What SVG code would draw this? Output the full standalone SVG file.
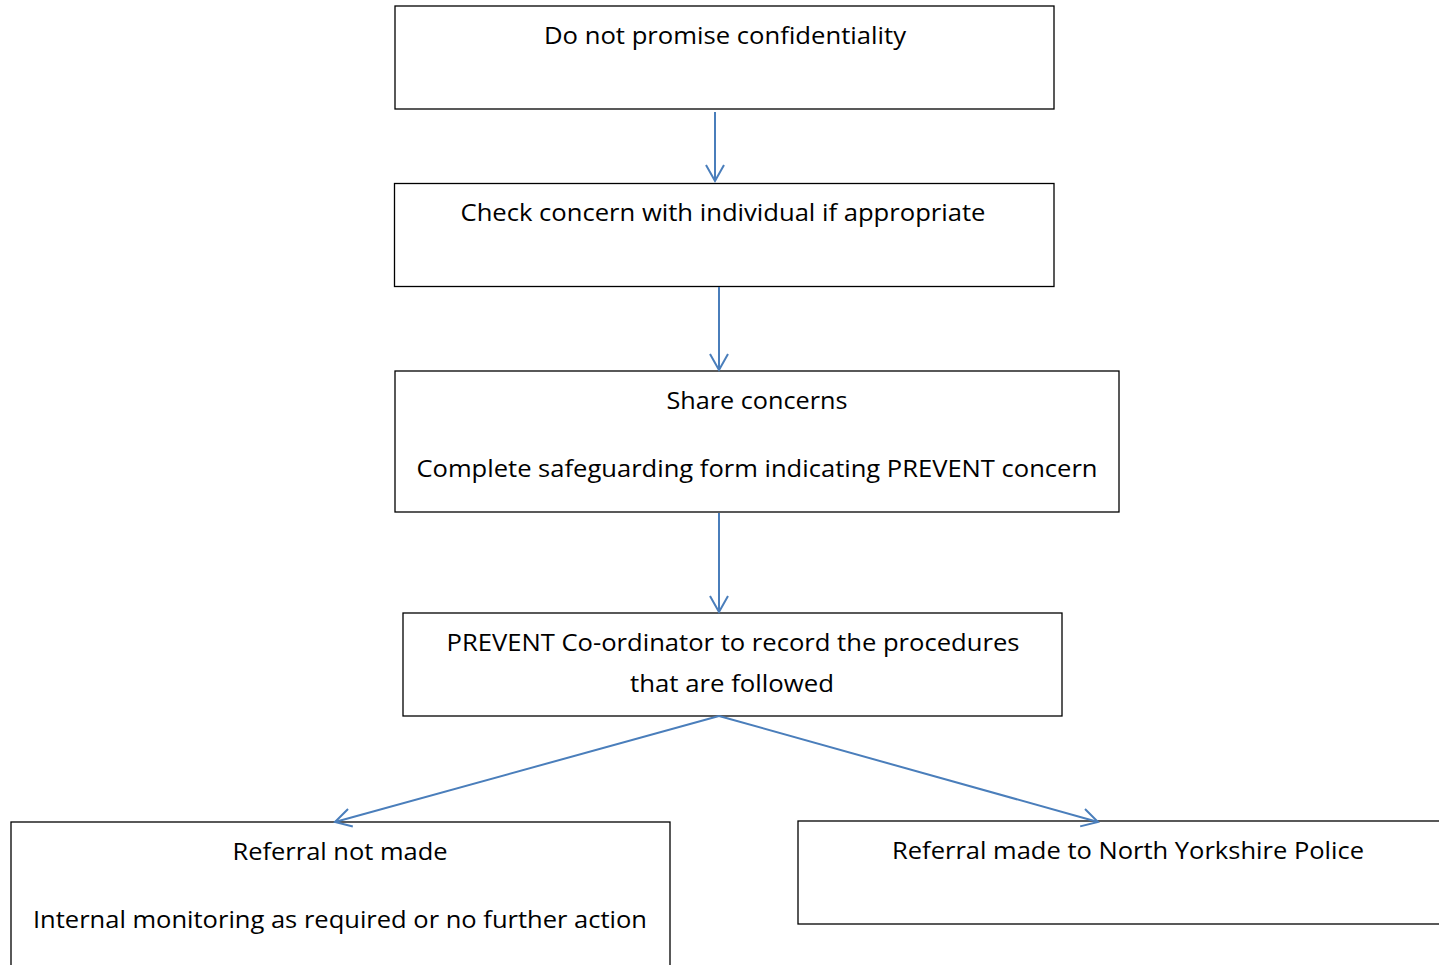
<svg xmlns="http://www.w3.org/2000/svg" width="1439" height="965" viewBox="0 0 1439 965">
<defs>
<style>
.box{fill:#fff;stroke:#000;stroke-width:1.3}
.t{font-family:"Open Sans","Liberation Sans",sans-serif;font-size:24px;fill:#000;text-anchor:middle}
.c{stroke:#4a7ebb;stroke-width:2;fill:none}
</style>
<marker id="a" markerWidth="24" markerHeight="24" refX="20" refY="10" orient="auto" markerUnits="userSpaceOnUse">
<path d="M4,1 L20,10 L4,19" fill="none" stroke="#4a7ebb" stroke-width="2"/>
</marker>
</defs>
<rect width="1439" height="965" fill="#fff"/>
<g id="n1"><rect class="box" x="395" y="6" width="659" height="103"/>
<text class="t" x="725" y="44" textLength="362" lengthAdjust="spacingAndGlyphs">Do not promise confidentiality</text></g>
<g id="n2"><rect class="box" x="394.5" y="183.5" width="659.5" height="103"/>
<text class="t" x="723" y="221" textLength="525" lengthAdjust="spacingAndGlyphs">Check concern with individual if appropriate</text></g>
<g id="n3"><rect class="box" x="395" y="371" width="724" height="141"/>
<text class="t" x="757" y="409" textLength="181" lengthAdjust="spacingAndGlyphs">Share concerns</text>
<text class="t" x="757" y="477" textLength="681" lengthAdjust="spacingAndGlyphs">Complete safeguarding form indicating PREVENT concern</text></g>
<g id="n4"><rect class="box" x="403" y="613" width="659" height="103"/>
<text class="t" x="733" y="651" textLength="573" lengthAdjust="spacingAndGlyphs">PREVENT Co-ordinator to record the procedures</text>
<text class="t" x="732" y="692" textLength="204" lengthAdjust="spacingAndGlyphs">that are followed</text></g>
<g id="n5"><rect class="box" x="11" y="822" width="659" height="160"/>
<text class="t" x="340" y="860" textLength="215" lengthAdjust="spacingAndGlyphs">Referral not made</text>
<text class="t" x="340" y="928" textLength="614" lengthAdjust="spacingAndGlyphs">Internal monitoring as required or no further action</text></g>
<g id="n6"><rect class="box" x="798" y="821" width="660" height="103"/>
<text class="t" x="1128" y="859" textLength="472" lengthAdjust="spacingAndGlyphs">Referral made to North Yorkshire Police</text></g>
<g id="connectors">
<line class="c" x1="715" y1="112" x2="715" y2="181" marker-end="url(#a)"/>
<line class="c" x1="719" y1="287" x2="719" y2="370" marker-end="url(#a)"/>
<line class="c" x1="719" y1="513" x2="719" y2="612" marker-end="url(#a)"/>
<line class="c" x1="719" y1="716" x2="335" y2="822" marker-end="url(#a)"/>
<line class="c" x1="719" y1="716" x2="1098" y2="822" marker-end="url(#a)"/>
</g>
</svg>
